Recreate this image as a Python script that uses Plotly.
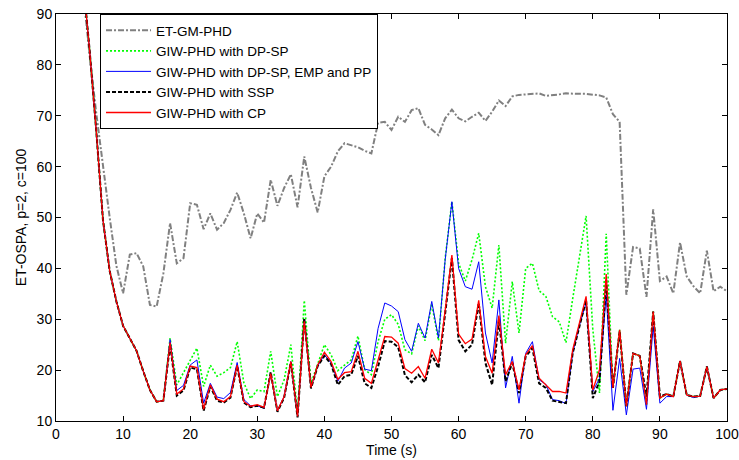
import plotly.graph_objects as go

t = list(range(1, 101))

early = [150, 130, 112, 97, 83, 67, 49.5, 39.5, 33.5, 28.7, 26.2, 23.8, 19.8, 16.1, 13.8, 14.0]

et_gm_phd = [150, 130, 112, 95, 82, 70.5, 60, 50, 40.5, 35.1,
             42.7, 43.0, 40.4, 32.8, 32.5, 39.0, 48.9, 41.0, 42.0, 52.8,
             52.5, 47.7, 50.8, 47.6, 48.9, 51.5, 54.9, 50.8, 45.9, 50.8,
             49.0, 57.4, 52.3, 55.8, 58.5, 52.0, 62.0, 55.8, 51.0, 58.1,
             60.0, 63.0, 64.6, 64.2, 63.8, 63.1, 62.6, 68.6, 68.8, 67.2,
             69.8, 68.8, 71.1, 71.5, 68.2, 67.3, 66.2, 69.5, 71.2, 69.5,
             68.9, 69.8, 70.6, 69.0, 70.8, 73.0, 71.9, 73.8, 74.1, 74.2,
             74.3, 74.4, 73.9, 74.0, 74.2, 74.4, 74.3, 74.3, 74.3, 74.2,
             74.0, 73.6, 70.3, 68.8, 34.8, 44.2, 43.9, 34.4, 51.6, 37.5,
             38.4, 35.1, 45.1, 38.4, 36.5, 35.1, 43.5, 35.5, 36.4, 35.5]

red_cp = early + [25.4, 15.3, 16.3, 20.8,
                  20.5, 12.3, 17.1, 14.3, 13.8, 14.8, 21.0, 13.8, 12.9, 13.2,
                  12.7, 19.3, 12.0, 14.8, 21.7, 10.9, 29.6, 16.6, 21.0, 23.5,
                  21.7, 18.2, 19.5, 19.7, 23.7, 18.4, 17.4, 22.0, 26.6, 26.5,
                  25.3, 20.3, 19.4, 20.7, 18.4, 24.1, 21.4, 31.8, 42.6, 27.1,
                  25.2, 26.1, 33.7, 22.7, 19.4, 30.7, 19.1, 21.7, 16.1, 23.0,
                  24.8, 18.4, 17.0, 15.8, 15.8, 15.5, 24.0, 29.5, 34.5, 16.1,
                  20.1, 38.9, 16.5, 27.9, 12.9, 23.3, 22.8, 13.2, 31.5, 14.5,
                  15.3, 14.8, 21.8, 15.1, 14.8, 14.9, 20.7, 14.5, 16.1, 16.3]

black_ssp = early + [25.0, 15.0, 16.0, 20.5,
                     20.2, 12.0, 16.8, 14.0, 13.6, 14.6, 20.8, 13.6, 12.7, 13.0,
                     12.6, 19.6, 11.8, 14.6, 21.5, 10.7, 30.2, 16.4, 20.8, 22.8,
                     21.2, 17.1, 18.8, 19.1, 22.8, 17.4, 16.5, 20.7, 25.7, 25.6,
                     24.5, 19.0, 17.6, 19.1, 17.6, 23.0, 20.4, 30.9, 42.0, 25.9,
                     23.7, 25.0, 33.2, 21.4, 17.1, 29.9, 17.8, 21.4, 15.5, 22.7,
                     24.3, 17.4, 16.5, 14.0, 13.8, 13.5, 23.3, 28.6, 33.8, 14.5,
                     17.8, 37.7, 16.5, 27.6, 12.9, 23.3, 22.8, 14.8, 31.5, 14.8,
                     15.3, 14.8, 21.8, 15.1, 14.8, 14.9, 20.7, 14.5, 16.1, 16.3]

blue_emp_pp = early + [26.0, 16.0, 17.0, 21.0,
                       22.0, 13.5, 17.4, 14.7, 14.4, 15.6, 21.5, 14.2, 13.0, 13.0,
                       12.5, 19.3, 12.0, 14.8, 21.7, 10.9, 29.9, 16.6, 20.8, 23.0,
                       21.4, 17.8, 20.4, 21.4, 25.6, 20.2, 19.9, 28.2, 33.2, 32.6,
                       31.5, 26.0, 23.7, 29.2, 26.3, 33.5, 26.3, 41.7, 53.1, 40.0,
                       36.4, 35.9, 41.3, 27.3, 21.4, 33.8, 16.5, 22.7, 13.5, 23.3,
                       25.6, 18.1, 17.2, 14.2, 14.0, 13.4, 23.3, 28.8, 33.2, 15.8,
                       18.4, 34.8, 12.1, 22.3, 11.2, 20.2, 20.4, 12.3, 28.6, 13.5,
                       14.8, 14.8, 21.8, 15.1, 14.6, 14.9, 20.7, 14.5, 16.1, 16.3]

green_dp_sp = early + [26.3, 17.1, 19.5, 22.0,
                       24.3, 16.8, 21.0, 18.8, 19.5, 20.5, 25.6, 17.5, 14.4, 16.1,
                       15.8, 23.7, 14.8, 18.1, 25.0, 11.5, 33.7, 17.4, 21.4, 25.0,
                       23.0, 19.9, 21.0, 22.0, 26.7, 20.1, 19.1, 25.6, 30.0, 30.9,
                       29.0, 24.0, 23.2, 28.7, 25.8, 33.0, 25.8, 42.0, 53.1, 41.0,
                       37.5, 41.7, 46.9, 36.4, 32.2, 44.6, 25.3, 37.4, 27.3, 40.0,
                       41.0, 35.6, 34.5, 30.5, 29.5, 25.4, 34.0, 42.0, 50.3, 28.0,
                       15.5, 46.8, 16.5, 27.9, 12.9, 23.3, 22.8, 13.2, 31.5, 14.5,
                       15.3, 14.8, 21.8, 15.1, 14.8, 14.9, 20.7, 14.5, 16.1, 16.3]

series = [
    ("ET-GM-PHD", et_gm_phd, "#808080", 2.0, "6px,2px,2px,2px"),
    ("GIW-PHD with DP-SP", green_dp_sp, "#00ff00", 1.6, "2px,2px"),
    ("GIW-PHD with DP-SP, EMP and PP", blue_emp_pp, "#0000ff", 1.0, "solid"),
    ("GIW-PHD with SSP", black_ssp, "#000000", 2.0, "4px,2px"),
    ("GIW-PHD with CP", red_cp, "#ff0000", 1.3, "solid"),
]

fig = go.Figure()
for name, y, color, width, dash in series:
    fig.add_trace(go.Scatter(x=t, y=y, mode="lines", name=name,
                             line=dict(color=color, width=width, dash=dash)))

font = dict(family="Liberation Sans, Arial, sans-serif", size=14, color="#000000")
legend_font = dict(family="Liberation Sans, Arial, sans-serif", size=13.5, color="#000000")

fig.update_layout(
    width=739, height=460,
    margin=dict(l=56, r=12, t=14, b=39, autoexpand=False),
    paper_bgcolor="white", plot_bgcolor="white",
    font=font,
    showlegend=True,
    legend=dict(x=0.0656, y=1.0, xanchor="left", yanchor="top",
                bgcolor="white", bordercolor="black", borderwidth=1,
                font=legend_font, tracegroupgap=0, itemwidth=45),
    xaxis=dict(range=[0, 100], tickvals=list(range(0, 101, 10)),
               showline=True, linecolor="black", linewidth=1, mirror="ticks",
               ticks="inside", ticklen=5, tickcolor="black", showgrid=False,
               zeroline=False, automargin=False,
               title=dict(text="Time (s)", font=font, standoff=2)),
    yaxis=dict(range=[10, 90], tickvals=list(range(10, 91, 10)),
               showline=True, linecolor="black", linewidth=1, mirror="ticks",
               ticks="inside", ticklen=5, tickcolor="black", showgrid=False,
               zeroline=False, automargin=False,
               title=dict(text="ET-OSPA, p=2, c=100", font=font, standoff=6)),
)

fig.write_html("out.html")
